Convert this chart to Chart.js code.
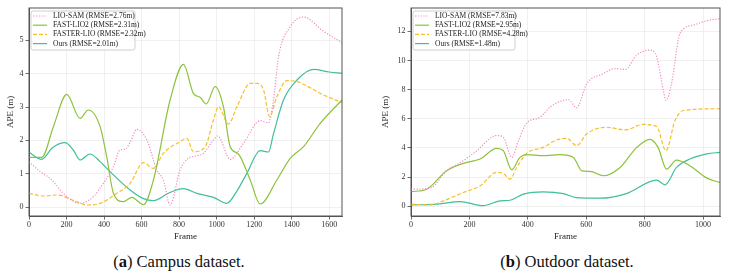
<!DOCTYPE html>
<html>
<head>
<meta charset="utf-8">
<script src="https://cdn.jsdelivr.net/npm/chart.js@4.4.1/dist/chart.umd.min.js"></script>
<style>
  body { margin: 0; background: #fff; width: 729px; height: 279px; position: relative; overflow: hidden; }
  canvas { position: absolute; top: 0; }
  #campus { left: 0; }
  #outdoor { left: 375px; }
  .cap { position: absolute; top: 251px; font-family: "Liberation Serif", serif; font-size: 16.5px; line-height: 22px; text-align: center; color: #111; }
</style>
</head>
<body>
<canvas id="campus" width="350" height="245"></canvas>
<canvas id="outdoor" width="354" height="245"></canvas>
<div class="cap" style="left:0;width:358px">(<b>a</b>) Campus dataset.</div>
<div class="cap" style="left:400px;width:334px">(<b>b</b>) Outdoor dataset.</div>
<script>
const methods = ['LIO-SAM', 'FAST-LIO2', 'FASTER-LIO', 'Ours']
const campusRmse = ['2.76m', '2.31m', '2.32m', '2.01m']
const outdoorRmse = ['7.83m', '2.95m', '4.28m', '1.48m']

// [frame, APE] pairs
const campusLioSam = [[0,1.36],[59,1.06],[112,0.86],[201,0.31],[272,0.11],[343,0.31],[396,0.71],[450,1.21],[485,1.71],[512,1.73],[540,1.95],[574,2.33],[628,2.01],[681,1.11],[716,0.81],[752,0.06],[805,1.11],[850,1.46],[912,1.56],[930,1.61],[983,2.01],[1006,2.13],[1072,1.43],[1143,1.91],[1232,2.59],[1276,2.53],[1303,3.21],[1330,4.51],[1392,5.41],[1463,5.70],[1570,5.27],[1668,4.93]]
const campusFastLio2 = [[0,1.49],[68,1.49],[130,2.41],[201,3.38],[272,2.66],[316,2.91],[379,2.41],[414,1.51],[450,0.41],[503,0.16],[548,0.29],[610,0.07],[663,0.81],[752,3.21],[823,4.28],[876,3.41],[912,3.29],[944,3.09],[992,3.61],[1036,3.01],[1072,1.81],[1116,1.59],[1179,0.81],[1232,0.09],[1321,0.81],[1392,1.46],[1463,1.81],[1552,2.51],[1668,3.21]]
const campusFasterLio = [[0,0.41],[80,0.33],[148,0.36],[254,0.16],[308,0.06],[379,0.11],[468,0.41],[539,0.71],[610,1.33],[663,1.16],[716,1.61],[805,1.96],[841,2.06],[876,1.66],[939,1.81],[983,2.61],[1010,3.01],[1063,2.49],[1108,3.01],[1179,3.71],[1214,3.71],[1250,3.51],[1282,2.71],[1321,3.31],[1374,3.79],[1428,3.76],[1570,3.36],[1668,3.13]]
const campusOurs = [[0,1.64],[68,1.43],[125,1.78],[192,1.93],[236,1.71],[272,1.41],[325,1.59],[379,1.36],[432,1.06],[539,0.51],[610,0.25],[663,0.19],[745,0.42],[823,0.55],[894,0.41],[983,0.29],[1054,0.11],[1110,0.5],[1161,1.01],[1232,1.69],[1276,1.65],[1303,2.2],[1356,3.21],[1428,3.81],[1516,4.13],[1600,4.05],[1668,4.01]]

const outdoorLioSam = [[0,1.17],[65,1.24],[122,2.43],[179,3.12],[225,3.81],[293,4.85],[316,4.73],[345,3.35],[368,4.50],[396,5.70],[442,6.11],[476,6.80],[510,7.19],[539,7.31],[567,6.76],[602,8.41],[659,9.10],[699,9.45],[733,9.38],[773,10.37],[818,10.71],[841,10.25],[864,7.95],[873,7.26],[892,8.41],[921,11.86],[967,12.43],[1013,12.73],[1058,12.87]]
const outdoorFastLio2 = [[0,1.0],[54,1.17],[122,2.43],[191,3.01],[237,3.24],[293,3.97],[316,3.81],[345,2.50],[373,3.35],[396,3.54],[453,3.47],[510,3.54],[556,3.35],[585,2.43],[613,2.39],[659,2.09],[716,2.66],[773,4.04],[818,4.59],[846,4.04],[875,2.55],[909,3.17],[955,2.78],[1013,1.93],[1058,1.63]]
const outdoorFasterLio = [[0,0.14],[65,0.09],[111,0.37],[179,0.94],[237,1.40],[293,2.32],[316,2.25],[339,1.86],[362,2.66],[396,3.63],[453,4.04],[499,4.55],[533,4.66],[567,4.16],[602,4.97],[670,5.42],[733,5.24],[795,5.61],[841,5.47],[873,3.81],[904,5.88],[933,6.57],[1058,6.69]]
const outdoorOurs = [[0,0.09],[91,0.14],[168,0.32],[247,0.04],[305,0.37],[339,0.41],[385,0.83],[453,0.99],[522,0.87],[567,0.59],[647,0.55],[738,0.87],[841,1.79],[870,1.47],[909,2.66],[955,3.24],[1013,3.59],[1058,3.70]]

const campusXTicks = [0, 200, 400, 600, 800, 1000, 1200, 1400, 1600]
const campusYTicks = [0, 1, 2, 3, 4, 5]
const outdoorXTicks = [0, 200, 400, 600, 800, 1000]
const outdoorYTicks = [0, 2, 4, 6, 8, 10, 12]

const colors = ['#f08ac4', '#8cc23c', '#f5c02a', '#3fbf9b']
const dashes = [[1.2, 1.6], [], [4, 2], []]
const serif = '"Liberation Serif", "Times New Roman", serif'

// full box round the plot + legend drawn inside the plot
const frameAndLegend = {
  id: 'frameAndLegend',
  afterDraw(chart, args, opts) {
    const {ctx, chartArea: a} = chart
    ctx.save()
    ctx.strokeStyle = '#555'
    ctx.lineWidth = 1
    ctx.setLineDash([])
    ctx.strokeRect(a.left, a.top, a.right - a.left, a.bottom - a.top)

    const bx = a.left + 2, by = a.top + 3
    ctx.fillStyle = 'rgba(255,255,255,0.85)'
    ctx.strokeStyle = '#cfcfcf'
    ctx.beginPath()
    ctx.roundRect(bx, by, opts.width, 39, 2)
    ctx.fill()
    ctx.stroke()
    ctx.font = '7.5px ' + serif
    ctx.textBaseline = 'middle'
    chart.data.datasets.forEach((ds, i) => {
      const y = by + 5 + i * 9.2
      ctx.strokeStyle = ds.borderColor
      ctx.lineWidth = 1.2
      ctx.setLineDash(ds.borderDash)
      ctx.beginPath()
      ctx.moveTo(bx + 2, y)
      ctx.lineTo(bx + 16, y)
      ctx.stroke()
      ctx.fillStyle = '#222'
      ctx.fillText(ds.label, bx + 22, y)
    })
    ctx.restore()
  }
}

function makeChart(id, series, rmse, xMax, yMin, yMax, xTicks, yTicks, yWidth, padRight, legendW) {
  return new Chart(document.getElementById(id), {
    type: 'line',
    data: {
      datasets: series.map((pts, i) => ({
        label: methods[i] + ' (RMSE=' + rmse[i] + ')',
        data: pts.map(([x, y]) => ({x, y})),
        borderColor: colors[i],
        borderDash: dashes[i],
        borderWidth: 1.2,
        pointRadius: 0,
        cubicInterpolationMode: 'monotone',
        fill: false
      }))
    },
    options: {
      responsive: false,
      animation: false,
      devicePixelRatio: 1,
      layout: {padding: {top: 8, right: padRight, left: 0, bottom: 0}},
      plugins: {legend: {display: false}, tooltip: {enabled: false}, frameAndLegend: {width: legendW}},
      events: [],
      scales: {
        x: {
          type: 'linear', min: 0, max: xMax,
          afterBuildTicks: s => { s.ticks = xTicks.map(v => ({value: v})) },
          afterFit: s => { s.height = 29 },
          grid: {color: '#ececec', lineWidth: 0.8, tickLength: 3.5, tickColor: '#444'},
          border: {color: '#555'},
          ticks: {color: '#333', padding: 1, maxRotation: 0, font: {family: serif, size: 8}, callback: v => String(v)},
          title: {display: true, text: 'Frame', color: '#222', padding: {top: 0, bottom: 3}, font: {family: serif, size: 9}}
        },
        y: {
          min: yMin, max: yMax,
          afterBuildTicks: s => { s.ticks = yTicks.map(v => ({value: v})) },
          afterFit: s => { s.width = yWidth },
          grid: {color: '#ececec', lineWidth: 0.8, tickLength: 3.5, tickColor: '#444'},
          border: {color: '#555'},
          ticks: {color: '#333', padding: 2, font: {family: serif, size: 8}, callback: v => String(v)},
          title: {display: true, text: 'APE (m)', color: '#222', padding: {top: 5, bottom: 0}, font: {family: serif, size: 9}}
        }
      }
    },
    plugins: [frameAndLegend]
  })
}

makeChart('campus', [campusLioSam, campusFastLio2, campusFasterLio, campusOurs], campusRmse,
  1668, -0.27, 5.97, campusXTicks, campusYTicks, 29, 8, 104)
makeChart('outdoor', [outdoorLioSam, outdoorFastLio2, outdoorFasterLio, outdoorOurs], outdoorRmse,
  1058, -0.67, 13.6, outdoorXTicks, outdoorYTicks, 36, 9, 102)
</script>
</body>
</html>
